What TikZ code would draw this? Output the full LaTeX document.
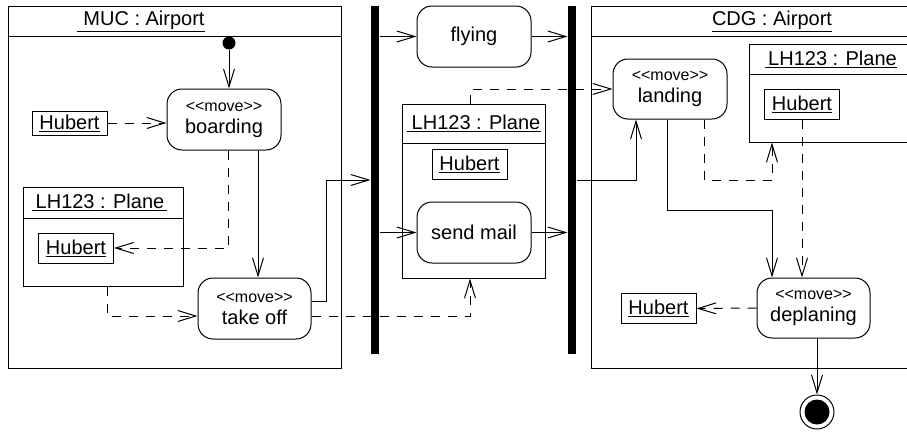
\documentclass[tikz,border=0pt]{standalone}
\usepackage{fontspec}
\setmainfont{Liberation Sans}
\usetikzlibrary{arrows.meta,fit}

\newcommand{\stereo}{{\fontsize{16}{17}\selectfont <{}<move>{}>}}

\newcommand{\headedbox}[8]{
    % Draw the outer box and name it with the first argument
    \node[draw, inner sep=0pt, fit={(#2,#3) (#4,#5)}] (#1) {};

    % Draw the header line and the underlined title
    \draw (#2,#6) -- (#4,#6);
    \node[inner sep=0pt] (#1-title) at (#7,{(#3+#6)/2}) {\underline{#8}};
}

\tikzset{
    state/.style={draw, rounded corners=15pt, align=center, inner sep=0pt},
    obj/.style={draw, minimum width=75pt, minimum height=30pt, inner sep=0pt},
    bar/.style={fill=black, minimum width=8pt, minimum height=348pt, inner sep=0pt},
    flow/.style={-{Straight Barb[length=18pt,width=11pt]}},
    dep/.style={flow, dash pattern=on 9pt off 8pt}
}

\begin{document}
\begin{tikzpicture}[x=1pt, y=-1pt, line width=1pt, font=\fontsize{20}{22}\selectfont]

  \useasboundingbox (0,0) rectangle (907,434);
  \clip (0,0) rectangle (907,434);

    % partitions and object boxes
    \headedbox{muc}{8}{6}{341}{368}{36}{141}{\hspace{6pt}MUC : Airport}
    \headedbox{cdg}{591}{6}{930}{368}{36}{772}{CDG : Airport}
    \headedbox{pla}{23}{187}{183}{286}{218}{99.5}{\hspace{4pt}LH123 : Plane\hspace{3pt}}
    \headedbox{plb}{402}{104}{545}{278}{143}{474}{\hspace{5pt}LH123 : Plane\hspace{1pt}}
    \headedbox{plc}{749}{44}{930}{142}{74}{831}{\hspace{3pt}LH123 : Plane}

    % bars
    \node[bar] (bar1) at (375,180) {};
    \node[bar] (bar2) at (572,180) {};

    % start and end
    \node[circle, fill=black, minimum size=13pt, inner sep=0pt] (init) at (229,43) {};
    \node[circle, draw, minimum size=34pt, inner sep=0pt] (final) at (817,412) {};
    \fill (final) circle (12.5);

    % actions
    \node[state, minimum width=114pt, minimum height=61pt] (boarding) at (224,119.5) {\stereo\\boarding};
    \node[state, minimum width=113pt, minimum height=61pt] (takeoff) at (254.5,308.5) {\stereo\\take off};
    \node[state, minimum width=114pt, minimum height=61pt] (flying) at (474,36.5) {flying};
    \node[state, minimum width=114pt, minimum height=61pt] (sendmail) at (474,232.5) {send mail};
    \node[state, minimum width=114pt, minimum height=60pt] (landing) at (670,89) {\stereo\\landing};
    \node[state, minimum width=113pt, minimum height=60pt] (deplaning) at (813.5,308) {\stereo\\deplaning};

    % Hubert objects
    \node[obj, minimum height=24pt] (huba) at (69.5,123) {\underline{Hubert}};
    \node[obj] (hubb) at (76,248) {\underline{Hubert}};
    \node[obj] (hubc) at (469.5,164.5) {\underline{Hubert}};
    \node[obj] (hubd) at (802,104) {\underline{Hubert}};
    \node[obj] (hube) at (658.5,308.5) {\underline{Hubert}};

    % control flow
    \draw[flow] (init) -- (init |- boarding.north);
    \draw[flow] (258,0 |- boarding.south) -- (258,0 |- takeoff.north);
    \draw[flow] (takeoff.east |- 0,301) -| (326,180) -- (bar1.west);
    \draw[flow] (bar1.east |- flying) -- (flying.west);
    \draw[flow] (flying.east) -- (bar2.west |- flying);
    \draw[flow] (bar1.east |- sendmail) -- (sendmail.west);
    \draw[flow] (sendmail.east) -- (bar2.west |- sendmail);
    \draw[flow] (bar2.east) -| (636,0 |- landing.south);
    \draw[flow] (667,0 |- landing.south) |- (772,210) -- (772,0 |- deplaning.north);
    \draw[flow] (final |- deplaning.south) -- (final.north);

    % object flow
    \draw[dep] (huba.east) -- (huba.east -| boarding.west);
    \draw[dep] (228,0 |- boarding.south) |- (hubb.east);
    \draw[dep] (107,0 |- pla.south) |- (takeoff.west |- 0,316);
    \draw[dep] (takeoff.east |- 0,316) -| (470,0 |- plb.south);
    \draw[dep] (470,0 |- plb.north) |- (landing.west);
    \draw[dep] (704,0 |- landing.south) |- (772,180) -- (772,0 |- plc.south);
    \draw[dep] (hubd.south) -- (hubd.south |- deplaning.north);
    \draw[dep] (deplaning.west) -- (hube.east);
\end{tikzpicture}
\end{document}
